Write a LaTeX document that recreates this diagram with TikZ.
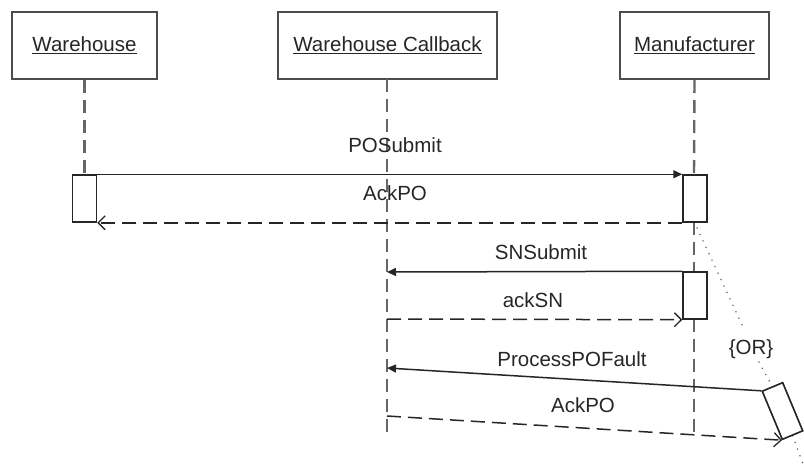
\documentclass[tikz,border=0pt]{standalone}
\usepackage{fontspec}
\setmainfont{Liberation Sans}
\usetikzlibrary{arrows.meta}
\begin{document}
\begin{tikzpicture}[x=1pt,y=-1pt,
  head/.style={draw=black!70, line width=2pt, fill=white, minimum height=67pt, inner sep=0pt},
  act/.style={draw=black!85, line width=1.5pt, fill=white, minimum width=24pt, inner sep=0pt},
  life/.style={draw=black!60, line width=2.4pt, dash pattern=on 13pt off 7pt},
  dotl/.style={draw=black!65, line width=1.6pt, line cap=round, dash pattern=on 0.1pt off 7pt},
  msg/.style={draw=black!85, line width=1.5pt, -{Triangle[length=9pt,width=8pt]}},
  ret/.style={draw=black!85, line width=1.5pt, dash pattern=on 14pt off 7pt, -{Straight Barb[length=7pt,width=14pt,line width=1.3pt]}},
  lbl/.style={font=\fontsize{20.5}{24}\selectfont, text=black!85, inner sep=0pt},
  every node/.append style={font=\fontsize{20.5}{24}\selectfont, text=black!85}]
\useasboundingbox (0,0) rectangle (804,469);
% heads
\node[head, minimum width=145pt] (wh) at (84.5,45.5) {\underline{Warehouse}};
\node[head, minimum width=219pt] (cb) at (387.5,45.5) {\underline{Warehouse Callback}};
\node[head, minimum width=149pt] (mf) at (694.5,45.5) {\underline{Manufacturer}};
% lifeline ends
\coordinate (cbTop) at (387,79);
\coordinate (cbEnd) at (387,435);
\coordinate (mfEnd) at (694,435);
% activations
\node[act, minimum height=47pt] (a1) at (84.5,198.5) {};
\node[act, minimum height=47pt] (m1) at (695,198.5) {};
\node[act, minimum height=47pt] (m2) at (695,295.5) {};
\node[act, minimum width=52pt, minimum height=22pt, rotate=-67.4] (rb) at (782.5,411) {};
% lifelines
\draw[life] (wh.south) -- (a1.north);
\draw[life] (cbTop) -- (cbEnd);
\draw[life] (mf.south) -- (694,175);
\draw[life] (694,222) -- (694,272);
\draw[life] (694,319) -- (mfEnd);
% redraw activation boxes above lifelines
\node[act, minimum height=47pt] at (84.5,198.5) {};
\node[act, minimum height=47pt] at (695,198.5) {};
\node[act, minimum height=47pt] at (695,295.5) {};
% dotted OR constraint
\coordinate (d1) at (697,228);
\coordinate (d2) at (744,329);
\coordinate (d3) at (759,362);
\coordinate (d4) at (804,467);
\draw[dotl] (d1) -- (d2);
\draw[dotl] (d3) -- (rb.west);
\draw[dotl] (rb.east) -- (d4);
\node[act, minimum width=52pt, minimum height=22pt, rotate=-67.4] at (782.5,411) {};
\node[lbl] (or) at (751,349) {\{OR\}};
% messages
\draw[msg] (a1.north east) -- (m1.north west);
\node[lbl] (l1) at (395,145) {POSubmit};
\draw[ret] (m1.south west) -- (a1.south east);
\node[lbl] (l2) at (395,193) {AckPO};
\coordinate (cbSN) at (387,272);
\coordinate (cbAck) at (387,319);
\draw[msg] (m2.north west) -- (cbSN);
\node[lbl] (l3) at (541,252) {SNSubmit};
\draw[ret] (cbAck) -- (m2.south west);
\node[lbl] (l4) at (533,300) {ackSN};
\coordinate (cbPF) at (387,368);
\coordinate (cbAck2) at (387,416);
\draw[msg] (rb.south west) -- (cbPF);
\node[lbl] (l5) at (572,359) {ProcessPOFault};
\draw[ret] (cbAck2) -- (rb.south east);
\node[lbl] (l6) at (583,405) {AckPO};
\end{tikzpicture}
\end{document}
